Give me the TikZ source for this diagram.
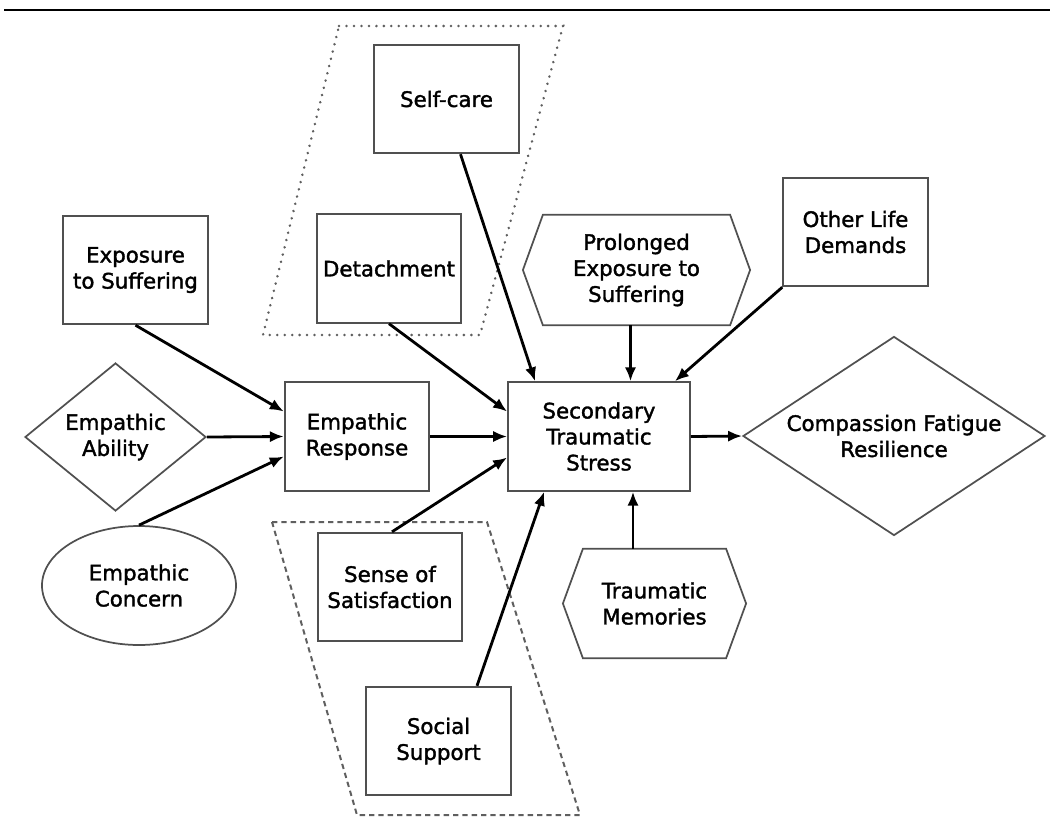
\documentclass[tikz,border=0pt]{standalone}
\usepackage{fontspec}
\setmainfont{DejaVu Sans}
\newfontfamily\lblfont[BoldFont={DejaVu Sans},BoldFeatures={FakeBold=1.6}]{DejaVu Sans}
\usetikzlibrary{shapes.geometric,arrows.meta,calc}
\definecolor{boxgray}{RGB}{80,80,80}
\definecolor{dashgray}{RGB}{95,95,95}
\begin{document}
\begin{tikzpicture}[x=0.75pt,y=-0.75pt,
  lbl/.style={align=center,inner sep=0pt,font=\lblfont\bfseries\fontsize{16}{19.5}\selectfont},
  box/.style={lbl,draw=boxgray,line width=1.3pt,minimum width=108.5pt,minimum height=81.5pt},
  hexbase/.style={lbl,draw=none},
  outline/.style={draw=boxgray,line width=1.3pt,line join=miter},
  arr/.style={draw=black,line width=2.1pt,-{Latex[length=10.5pt,width=8.5pt]}},
  dotline/.style={draw=dashgray,line width=2pt,line cap=round,dash pattern=on 0.1pt off 5.5pt},
  dashline/.style={draw=dashgray,line width=1.5pt,dash pattern=on 4pt off 3pt}
]
\useasboundingbox (0,0) rectangle (1050,829);
% top rule
\draw[line width=1.5pt] (4,10) -- (1050,10);

% grouping parallelograms
\draw[dotline] (339,26) -- (563,26) -- (480,335) -- (263,335) -- cycle;
\draw[dashline] (272,522) -- (487,522) -- (580,815) -- (357,815) -- cycle;

% boxes
\node[box] (selfcare) at (446.5,99) {Self-care};
\node[box] (detach) at (389,268.5) {Detachment};
\node[box] (expo) at (135.5,270) {Exposure\\to Suffering};
\node[box] (other) at (855.5,232) {Other Life\\Demands};
\node[box] (er) at (357,436.5) {Empathic\\Response};
\node[box,minimum width=136.5pt] (sts) at (599,436.5) {Secondary\\Traumatic\\Stress};
\node[box] (sense) at (390,587) {Sense of\\Satisfaction};
\node[box] (social) at (438.5,741) {Social\\Support};

% hexagons
\node[hexbase,minimum width=170pt,minimum height=82.5pt] (prol) at (636.5,270) {Prolonged\\Exposure to\\Suffering};
\draw[outline] ($(prol.north west)+(20,0)$) -- ($(prol.north east)+(-20,0)$) -- (prol.east)
  -- ($(prol.south east)+(-20,0)$) -- ($(prol.south west)+(20,0)$) -- (prol.west) -- cycle;
\node[hexbase,minimum width=137pt,minimum height=81.75pt] (tm) at (654.5,603.5) {Traumatic\\Memories};
\draw[outline] ($(tm.north west)+(20,0)$) -- ($(tm.north east)+(-20,0)$) -- (tm.east)
  -- ($(tm.south east)+(-20,0)$) -- ($(tm.south west)+(20,0)$) -- (tm.west) -- cycle;

% diamonds and ellipse
\node[diamond,outline,minimum width=135.75pt,minimum height=111pt,inner sep=0pt] (abil) at (115.5,437) {};
\node[lbl] (abilt) at (abil) {Empathic\\Ability};
\node[diamond,outline,minimum width=226.5pt,minimum height=149.25pt,inner sep=0pt] (comp) at (894,436) {};
\node[lbl] (compt) at (comp) {Compassion Fatigue\\Resilience};
\node[ellipse,outline,minimum width=145.5pt,minimum height=89.25pt,inner sep=0pt] (conc) at (139,585.5) {};
\node[lbl] (conct) at (conc) {Empathic\\Concern};

% connector end points
\coordinate (prolout) at ($(prol.south)+(-6,0)$);
\coordinate (tmout) at ($(tm.north)+(-21.5,0)$);

% connectors
\draw[arr] (expo.south) -- ($(er.west)+(0,-25)$);
\draw[arr] (abil.east) -- (er.west);
\draw[arr] (conc.north) -- ($(er.west)+(0,20)$);
\draw[arr] (er.east) -- (sts.west);
\draw[arr] (detach.south) -- ($(sts.west)+(0,-25)$);
\draw[arr] ($(selfcare.south)+(14,0)$) -- ($(sts.north west)+(28,0)$);
\draw[arr] (prolout) -- (prolout |- sts.north);
\draw[arr] (other.south west) -- ($(sts.north east)+(-16,0)$);
\draw[arr] ($(sense.north)+(2,0)$) -- ($(sts.west)+(0,21)$);
\draw[arr] ($(social.north)+(38.5,0)$) -- ($(sts.south west)+(37,0)$);
\draw[arr] (tmout) -- (tmout |- sts.south);
\draw[arr] (sts.east) -- (comp.west);
\end{tikzpicture}
\end{document}
